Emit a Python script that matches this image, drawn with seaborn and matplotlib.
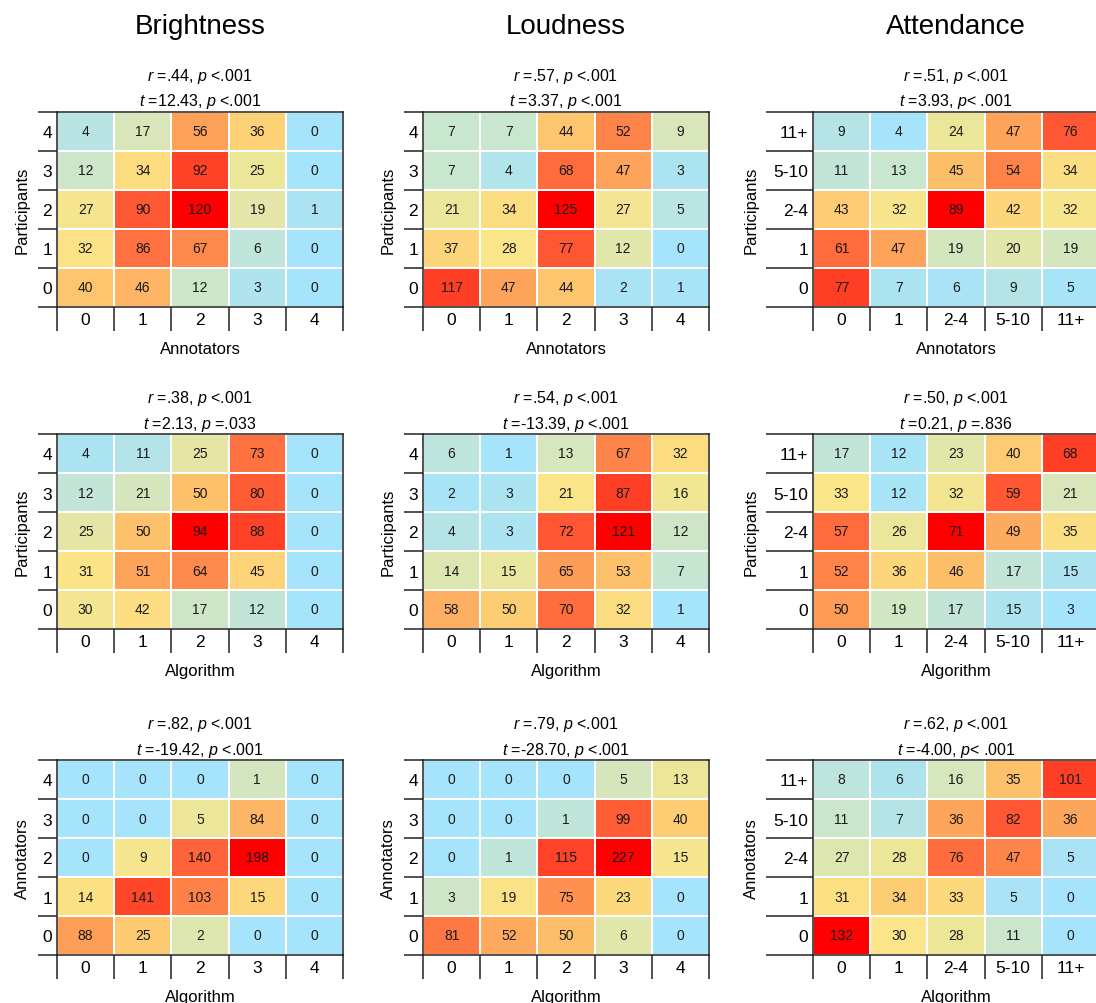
import numpy as np
import pandas as pd
import matplotlib
matplotlib.use("Agg")
import matplotlib.pyplot as plt
import seaborn as sns
from matplotlib.colors import LinearSegmentedColormap

sns.set_style("white")
plt.rcParams['font.family'] = ['Liberation Sans', 'DejaVu Sans']
plt.rcParams['mathtext.fontset'] = 'custom'
plt.rcParams['mathtext.rm'] = 'Liberation Sans'
plt.rcParams['mathtext.it'] = 'Liberation Sans:italic'
plt.rcParams['text.color'] = 'black'
plt.rcParams['axes.labelcolor'] = 'black'
plt.rcParams['xtick.color'] = 'black'
plt.rcParams['ytick.color'] = 'black'

# category labels (rows listed top to bottom)
num_cols = ['0', '1', '2', '3', '4']
num_rows = ['4', '3', '2', '1', '0']
att_cols = ['0', '1', '2-4', '5-10', '11+']
att_rows = ['11+', '5-10', '2-4', '1', '0']

column_titles = ['Brightness', 'Loudness', 'Attendance']

# counts, rows top->bottom
bright_part_ann = [[4, 17, 56, 36, 0], [12, 34, 92, 25, 0], [27, 90, 120, 19, 1],
                   [32, 86, 67, 6, 0], [40, 46, 12, 3, 0]]
loud_part_ann = [[7, 7, 44, 52, 9], [7, 4, 68, 47, 3], [21, 34, 125, 27, 5],
                 [37, 28, 77, 12, 0], [117, 47, 44, 2, 1]]
att_part_ann = [[9, 4, 24, 47, 76], [11, 13, 45, 54, 34], [43, 32, 89, 42, 32],
                [61, 47, 19, 20, 19], [77, 7, 6, 9, 5]]

bright_part_alg = [[4, 11, 25, 73, 0], [12, 21, 50, 80, 0], [25, 50, 94, 88, 0],
                   [31, 51, 64, 45, 0], [30, 42, 17, 12, 0]]
loud_part_alg = [[6, 1, 13, 67, 32], [2, 3, 21, 87, 16], [4, 3, 72, 121, 12],
                 [14, 15, 65, 53, 7], [58, 50, 70, 32, 1]]
att_part_alg = [[17, 12, 23, 40, 68], [33, 12, 32, 59, 21], [57, 26, 71, 49, 35],
                [52, 36, 46, 17, 15], [50, 19, 17, 15, 3]]

bright_ann_alg = [[0, 0, 0, 1, 0], [0, 0, 5, 84, 0], [0, 9, 140, 198, 0],
                  [14, 141, 103, 15, 0], [88, 25, 2, 0, 0]]
loud_ann_alg = [[0, 0, 0, 5, 13], [0, 0, 1, 99, 40], [0, 1, 115, 227, 15],
                [3, 19, 75, 23, 0], [81, 52, 50, 6, 0]]
att_ann_alg = [[8, 6, 16, 35, 101], [11, 7, 36, 82, 36], [27, 28, 76, 47, 5],
               [31, 34, 33, 5, 0], [132, 30, 28, 11, 0]]

r_lines = [[r'$\it{r}$ =.44, $\it{p}$ <.001', r'$\it{r}$ =.57, $\it{p}$ <.001', r'$\it{r}$ =.51, $\it{p}$ <.001'],
           [r'$\it{r}$ =.38, $\it{p}$ <.001', r'$\it{r}$ =.54, $\it{p}$ <.001', r'$\it{r}$ =.50, $\it{p}$ <.001'],
           [r'$\it{r}$ =.82, $\it{p}$ <.001', r'$\it{r}$ =.79, $\it{p}$ <.001', r'$\it{r}$ =.62, $\it{p}$ <.001']]
t_lines = [[r'$\it{t}$ =12.43, $\it{p}$ <.001', r'$\it{t}$ =3.37, $\it{p}$ <.001', r'$\it{t}$ =3.93, $\it{p}$< .001'],
           [r'$\it{t}$ =2.13, $\it{p}$ =.033', r'$\it{t}$ =-13.39, $\it{p}$ <.001', r'$\it{t}$ =0.21, $\it{p}$ =.836'],
           [r'$\it{t}$ =-19.42, $\it{p}$ <.001', r'$\it{t}$ =-28.70, $\it{p}$ <.001', r'$\it{t}$ =-4.00, $\it{p}$< .001']]

grid = [[bright_part_ann, loud_part_ann, att_part_ann],
        [bright_part_alg, loud_part_alg, att_part_alg],
        [bright_ann_alg, loud_ann_alg, att_ann_alg]]
xnames = ['Annotators', 'Algorithm', 'Algorithm']
ynames = ['Participants', 'Participants', 'Annotators']

# blue -> green -> yellow -> orange -> red
cmap = LinearSegmentedColormap.from_list('rank_cmap', [
    (0.00, '#a6e4fb'), (0.14, '#ace3f0'), (0.22, '#bce5e0'), (0.30, '#cbe6cb'),
    (0.38, '#d9e6b8'), (0.46, '#ebe69a'), (0.54, '#fbe589'), (0.62, '#fdd87c'),
    (0.70, '#fdc26c'), (0.77, '#fda55b'), (0.83, '#fe864a'), (0.88, '#ff6a3c'),
    (0.93, '#ff5030'), (0.97, '#ff3a22'), (1.00, '#ff0000')])

W, H = 1096, 1004
fig = plt.figure(figsize=(W / 100, H / 100), dpi=100)

lefts = [57, 423, 813]
tops = [113, 435, 761]
pw, ph = 286, 195
edge = '#222222'


def draw_panel(ax, counts, rows, cols, xname, yname, line1, line2, ytick_len, ylab_x):
    df = pd.DataFrame(counts, index=rows, columns=cols)
    # colour follows the rank of each cell within the panel
    ranks = pd.DataFrame(pd.Series(np.ravel(counts)).rank(method='average').values.reshape(df.shape),
                         index=rows, columns=cols)
    sns.heatmap(ranks, annot=df, fmt='d', cmap=cmap, cbar=False, linewidths=1.2,
                linecolor='white', ax=ax, annot_kws={'size': 10, 'color': '#1a1a1a'})
    for s in ax.spines.values():
        s.set_visible(True)
        s.set_color(edge)
        s.set_linewidth(1.1)
    n = len(cols)
    ax.set_xticks(np.arange(n + 1))
    ax.set_xticklabels([''] * (n + 1))
    ax.set_xticks(np.arange(n) + 0.5, minor=True)
    ax.set_xticklabels(cols, minor=True, fontsize=12.5)
    ax.set_yticks(np.arange(len(rows) + 1))
    ax.set_yticklabels([''] * (len(rows) + 1))
    ax.set_yticks(np.arange(len(rows)) + 0.5, minor=True)
    ax.set_yticklabels(rows, minor=True, fontsize=12.5, rotation=0)
    ax.tick_params(axis='x', which='major', bottom=True, length=17, width=1.1, color=edge)
    ax.tick_params(axis='y', which='major', left=True, length=ytick_len, width=1.1, color=edge)
    ax.tick_params(axis='both', which='minor', bottom=True, left=True, length=0, pad=3.5)
    ax.set_xlabel(xname, fontsize=12)
    ax.set_ylabel(yname, fontsize=12)
    ax.xaxis.set_label_coords(0.5, -0.175)
    ax.yaxis.set_label_coords(ylab_x, 0.5)
    ax.text(0.5, 1 + 36 / ph, line1, ha='center', va='center', transform=ax.transAxes, fontsize=11.5)
    ax.text(0.5, 1 + 11 / ph, line2, ha='center', va='center', transform=ax.transAxes, fontsize=11.5)


for i in range(3):
    for j in range(3):
        ax = fig.add_axes([lefts[j] / W, 1 - (tops[i] + ph) / H, pw / W, ph / H])
        if j == 2:
            rows, cols, tl, lx = att_rows, att_cols, 34, -0.19
        else:
            rows, cols, tl, lx = num_rows, num_cols, 14, -0.095
        draw_panel(ax, grid[i][j], rows, cols, xnames[i], ynames[i],
                   r_lines[i][j], t_lines[i][j], tl, lx)

for j, title in enumerate(column_titles):
    fig.text((lefts[j] + pw / 2) / W, 1 - 27 / H, title, ha='center', va='center', fontsize=20)

fig.savefig('out.png', dpi=100)
